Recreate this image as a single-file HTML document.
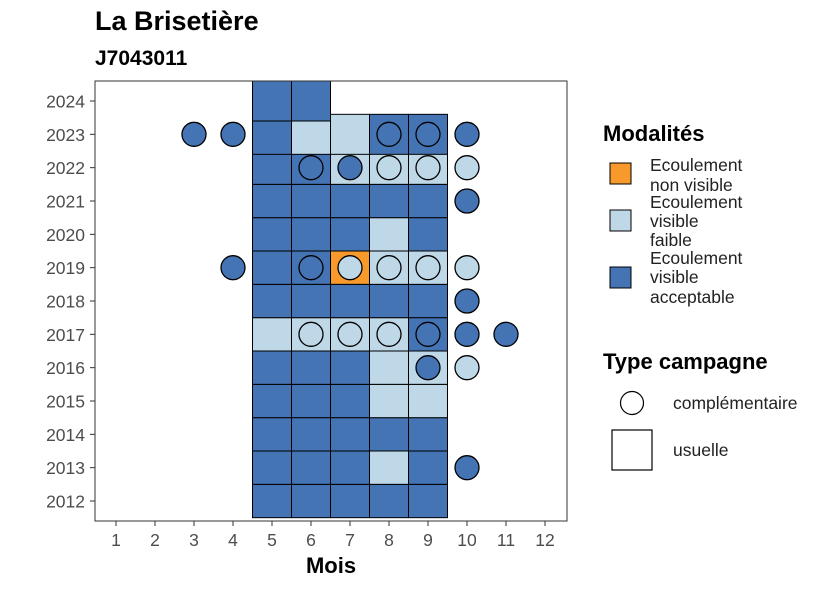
<!DOCTYPE html>
<html><head><meta charset="utf-8"><style>
body{margin:0;background:#fff}
svg text{font-family:"Liberation Sans",sans-serif}
</style></head><body>
<svg id="chart" width="826" height="590" viewBox="0 0 826 590" xmlns="http://www.w3.org/2000/svg">
<defs><clipPath id="pc"><rect x="95" y="81" width="472" height="440"/></clipPath></defs>
<text x="95" y="30" font-size="27" font-weight="bold">La Brisetière</text>
<text x="95" y="65" font-size="21" font-weight="bold">J7043011</text>
<g id="tiles" clip-path="url(#pc)"></g>
<g id="points"></g>
<rect x="95" y="81" width="472" height="440" fill="none" stroke="#333" stroke-width="1"/>
<g id="axes"></g>
<text x="331" y="573" font-size="22" font-weight="bold" text-anchor="middle">Mois</text>
<g>
<text x="603" y="141" font-size="22" font-weight="bold">Modalités</text>
<rect x="610" y="163" width="21" height="21" fill="#f89a2b" stroke="#000"/>
<text x="650" y="171" font-size="17.5" fill="#222">Ecoulement<tspan x="650" dy="20">non visible</tspan></text>
<rect x="610" y="210" width="21" height="21" fill="#bfd8e8" stroke="#000"/>
<text x="650" y="208" font-size="17.5" fill="#222">Ecoulement<tspan x="650" dy="19">visible</tspan><tspan x="650" dy="19">faible</tspan></text>
<rect x="610" y="267" width="21" height="21" fill="#4574b5" stroke="#000"/>
<text x="650" y="264" font-size="17.5" fill="#222">Ecoulement<tspan x="650" dy="19">visible</tspan><tspan x="650" dy="20">acceptable</tspan></text>
</g>
<g>
<text x="603" y="369" font-size="22" font-weight="bold">Type campagne</text>
<circle cx="632" cy="403" r="11.5" fill="#fff" stroke="#000" stroke-width="1.2"/>
<text x="673" y="409" font-size="17.5" fill="#222">complémentaire</text>
<rect x="612" y="430" width="40" height="40" fill="#fff" stroke="#000" stroke-width="1.2"/>
<text x="673" y="456" font-size="17.5" fill="#222">usuelle</text>
</g>
</svg>
<script>
const months=[1,2,3,4,5,6,7,8,9,10,11,12];
const years=[2012,2013,2014,2015,2016,2017,2018,2019,2020,2021,2022,2023,2024];
const colors={N:"#f89a2b",F:"#bfd8e8",A:"#4574b5"};
const tileYears=[2012,2012,2012,2012,2012,2013,2013,2013,2013,2013,2014,2014,2014,2014,2014,2015,2015,2015,2015,2015,2016,2016,2016,2016,2016,2017,2017,2017,2017,2017,2018,2018,2018,2018,2018,2019,2019,2019,2019,2019,2020,2020,2020,2020,2020,2021,2021,2021,2021,2021,2022,2022,2022,2022,2022,2023,2023,2023,2023,2023,2024,2024];
const tileMonths=[5,6,7,8,9,5,6,7,8,9,5,6,7,8,9,5,6,7,8,9,5,6,7,8,9,5,6,7,8,9,5,6,7,8,9,5,6,7,8,9,5,6,7,8,9,5,6,7,8,9,5,6,7,8,9,5,6,7,8,9,5,6];
const tileMods=["A","A","A","A","A","A","A","A","F","A","A","A","A","A","A","A","A","A","F","F","A","A","A","F","F","F","F","F","F","A","A","A","A","A","A","A","A","N","F","F","A","A","A","F","A","A","A","A","A","A","A","A","F","F","F","A","F","F","A","A","A","A"];
const ptYears=[2023,2023,2023,2023,2023,2022,2022,2022,2022,2022,2021,2019,2019,2019,2019,2019,2019,2018,2017,2017,2017,2017,2017,2017,2016,2016,2013];
const ptMonths=[3,4,8,9,10,6,7,8,9,10,10,4,6,7,8,9,10,10,6,7,8,9,10,11,9,10,10];
const ptMods=["A","A","A","A","A","A","A","F","F","F","A","A","A","F","F","F","F","A","F","F","F","A","A","A","A","F","A"];
const xS=m=>116+(m-1)*39;
const yS=y=>501-(y-2012)*(400/12);
const NS="http://www.w3.org/2000/svg";
const tg=document.getElementById('tiles'),pg=document.getElementById('points'),ag=document.getElementById('axes');
tileYears.forEach((y,i)=>{
 const r=document.createElementNS(NS,'rect');
 const h=y>=2023?40:400/12;
 r.setAttribute('x',xS(tileMonths[i])-19.5);r.setAttribute('y',yS(y)-h/2);
 r.setAttribute('width',39);r.setAttribute('height',h);
 r.setAttribute('fill',colors[tileMods[i]]);r.setAttribute('stroke','#000');r.setAttribute('stroke-width','1');
 
 
 tg.appendChild(r);
});
ptYears.forEach((y,i)=>{
 const c=document.createElementNS(NS,'circle');
 c.setAttribute('cx',xS(ptMonths[i]));c.setAttribute('cy',yS(y));c.setAttribute('r',12);
 c.setAttribute('fill',colors[ptMods[i]]);c.setAttribute('stroke','#000');c.setAttribute('stroke-width','1.3');
 
 
 pg.appendChild(c);
});
months.forEach(m=>{
 const l=document.createElementNS(NS,'line');
 l.setAttribute('x1',xS(m));l.setAttribute('x2',xS(m));l.setAttribute('y1',521);l.setAttribute('y2',526);l.setAttribute('stroke','#333');
 
 
 ag.appendChild(l);
 const t=document.createElementNS(NS,'text');
 t.setAttribute('x',xS(m));t.setAttribute('y',546);t.setAttribute('text-anchor','middle');t.setAttribute('font-size','17.5');t.setAttribute('fill','#4d4d4d');
 t.textContent=m;
 
 
 ag.appendChild(t);
});
years.forEach(y=>{
 const l=document.createElementNS(NS,'line');
 l.setAttribute('x1',90);l.setAttribute('x2',95);l.setAttribute('y1',yS(y));l.setAttribute('y2',yS(y));l.setAttribute('stroke','#333');
 
 
 ag.appendChild(l);
 const t=document.createElementNS(NS,'text');
 t.setAttribute('x',85);t.setAttribute('y',yS(y)+6.5);t.setAttribute('text-anchor','end');t.setAttribute('font-size','17.5');t.setAttribute('fill','#4d4d4d');
 t.textContent=y;
 
 
 ag.appendChild(t);
});
</script>
</body></html>
